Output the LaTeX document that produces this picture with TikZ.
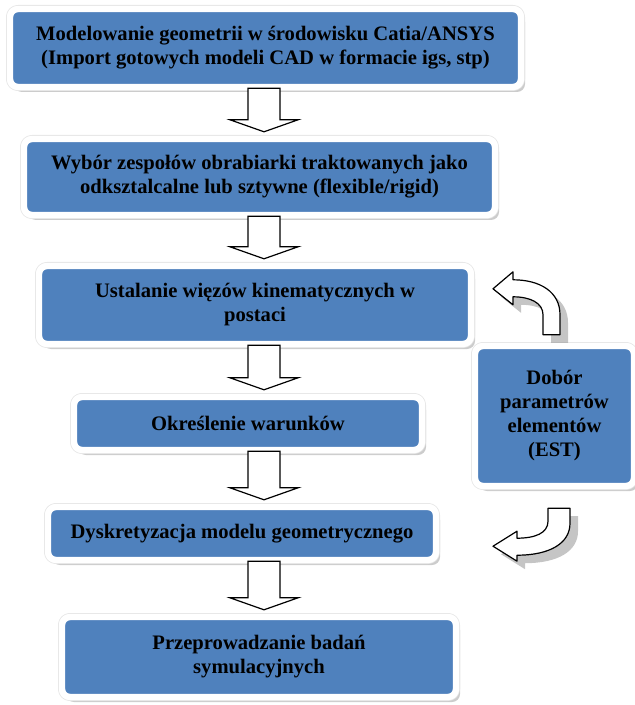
\documentclass[tikz,border=0pt]{standalone}
\usepackage{fontspec}
\setmainfont{Liberation Serif}
\usepackage{tikz}
\usetikzlibrary{calc, shadows, positioning}
\definecolor{boxblue}{RGB}{79,129,189}

\tikzset{
  stage/.style={rectangle, rounded corners=4pt, fill=boxblue,
    drop shadow={shadow xshift=2pt, shadow yshift=-2.5pt, fill=black!40},
    preaction={draw=black!10, line width=4pt},
    draw=white, line width=3.2pt, align=center, text=black, inner sep=0pt,
    font=\fontsize{10.3}{12}\selectfont\bfseries},
  flowarrow/.style={draw=black, fill=white, line width=0.6pt, line join=miter,
    to path={let \p1=(\tikztostart), \p2=(\tikztotarget) in
      (\x1-8pt,\y1+1pt) -- (\x1-8pt,\y2+8pt) -- (\x1-17pt,\y2+8pt) -- (\x2,\y2+2pt)
      -- (\x1+17pt,\y2+8pt) -- (\x1+8pt,\y2+8pt) -- (\x1+8pt,\y1+1pt) -- cycle}},
  bentarrow/.style={draw=black, fill=white, line width=0.6pt,
    drop shadow={shadow xshift=4pt, shadow yshift=-4pt, fill=black!45}}
}

\begin{document}
\begin{tikzpicture}[x=0.5pt, y=-0.5pt, line join=round]
  \useasboundingbox (0,0) rectangle (634,705);

  % --- main column ---
  \node[stage, minimum width=255.5pt, minimum height=39pt] (model) at (265.5,48)
    {Modelowanie geometrii w środowisku Catia/ANSYS\\(Import gotowych modeli CAD w formacie igs, stp)};
  \node[stage, minimum width=235.5pt, minimum height=38pt] (wybor) at (259.5,177)
    {Wybór zespołów obrabiarki traktowanych jako\\odksztalcalne lub sztywne (flexible/rigid)};
  \node[stage, minimum width=216pt, minimum height=39pt] (wiezy) at (255,305)
    {Ustalanie więzów kinematycznych w\\postaci};
  \node[stage, minimum width=174pt, minimum height=26.5pt] (warunki) at (248,423.5)
    {Określenie warunków};
  \node[stage, minimum width=194pt, minimum height=26.5pt] (dyskr) at (242,533.5)
    {Dyskretyzacja modelu geometrycznego};
  \node[stage, minimum width=197pt, minimum height=40pt] (badania) at (259,657)
    {Przeprowadzanie badań\\symulacyjnych};

  % --- side box ---
  \node[stage, minimum width=79.5pt, minimum height=70pt] (dobor) at (554.5,416)
    {Dobór\\parametrów\\elementów\\(EST)};

  % --- block arrows ---
  \coordinate (ax) at (264,0);
  \foreach \a/\b in {model/wybor, wybor/wiezy, wiezy/warunki, warunki/dyskr, dyskr/badania}
    \draw[flowarrow] (\a.south -| ax) to (\b.north -| ax);

  % --- bent arrows at the side box ---
  \begin{scope}[shift={(dobor.north)}]
    \draw[bentarrow] (-61.5,-54) -- (-41.5,-71) -- (-41.5,-63)
      .. controls (-14.5,-63) and (5.5,-51) .. (5.5,-28) -- (5.5,-8) -- (-11.5,-8) -- (-11.5,-28)
      .. controls (-11.5,-40) and (-24.5,-46) .. (-41.5,-46) -- (-41.5,-38) -- cycle;
  \end{scope}
  \begin{scope}[shift={(dobor.south)}]
    \draw[bentarrow] (-61.5,57) -- (-37.5,42) -- (-37.5,49)
      .. controls (-19.5,49) and (-6.5,44) .. (-6.5,32) -- (-6.5,19) -- (15.5,19) -- (15.5,34)
      .. controls (15.5,54) and (-4.5,66) .. (-37.5,66) -- (-37.5,72) -- cycle;
  \end{scope}
\end{tikzpicture}
\end{document}
